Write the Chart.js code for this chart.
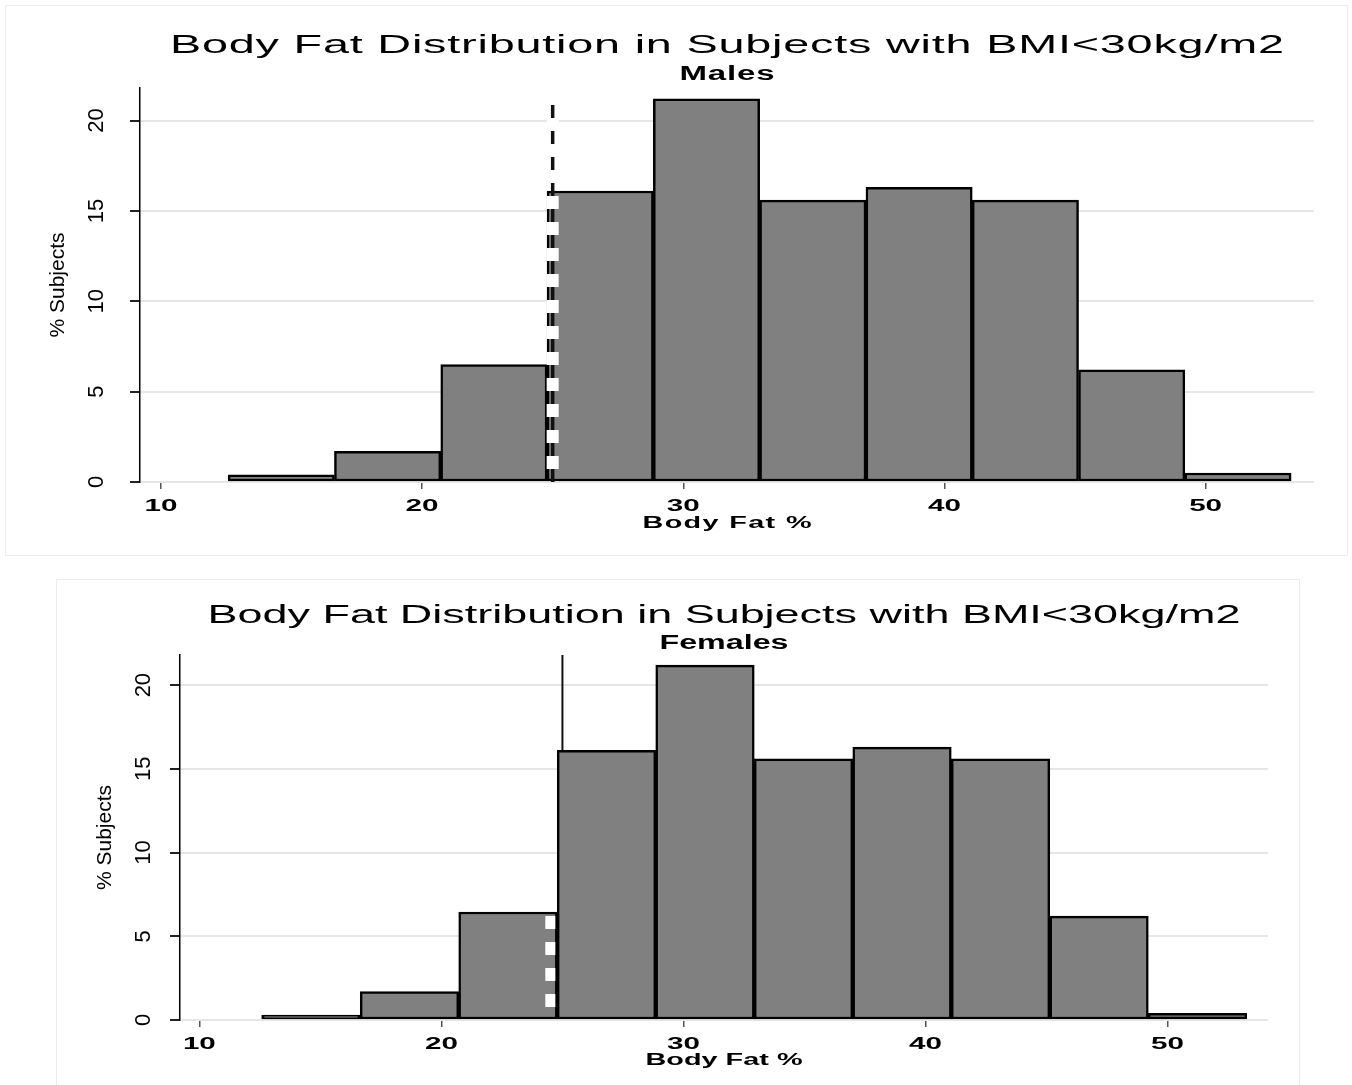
<!DOCTYPE html>
<html>
<head>
<meta charset="utf-8">
<script src="https://cdn.jsdelivr.net/npm/chart.js@4.4.1/dist/chart.umd.min.js"></script>
<style>
  html, body { margin: 0; background: #fff; }
  body { width: 1352px; height: 1085px; position: relative; overflow: hidden; }
  .panel { position: absolute; box-shadow: 0 0 0 1px #ececec; background: #fff; }
  canvas { display: block; }
</style>
</head>
<body>
<div class="panel" style="left:6px;top:6px;width:1341px;height:549px">
  <canvas id="male" width="1341" height="549"></canvas>
</div>
<div class="panel" style="left:57px;top:580px;width:1242px;height:520px">
  <canvas id="female" width="1242" height="505"></canvas>
</div>
<script>
// histogram bins (body fat %), bin centres, width ~4.07
const binCenters = [14.61, 18.68, 22.75, 26.82, 30.89, 34.96, 39.03, 43.10, 47.17, 51.24];
const malePct = [0.4, 1.7, 6.5, 16.1, 21.2, 15.6, 16.3, 15.6, 6.2, 0.5];
const femalePct = [0.3, 1.7, 6.45, 16.1, 21.2, 15.6, 16.3, 15.6, 6.2, 0.4];
const xTicks = [10, 20, 30, 40, 50];
const yTicks = [0, 5, 10, 15, 20];
const cutoff = 25; // body fat cut-off line
const maleLineTop = 21.3;

const titleText = "Body Fat Distribution in Subjects with BMI<30kg/m2";

function stretchText(ctx, text, x, y, font, width, k) {
  ctx.save();
  ctx.font = font;
  ctx.letterSpacing = "0px";
  const w0 = ctx.measureText(text).width;
  let ls = 0;
  if (width) {
    k = Math.min(k, width / w0);
    ls = Math.max(0, (width / k - w0) / Math.max(text.length - 1, 1));
  }
  ctx.letterSpacing = ls + "px";
  ctx.translate(x, y);
  ctx.scale(k, 1);
  ctx.textAlign = "center";
  ctx.textBaseline = "alphabetic";
  ctx.fillStyle = "#000";
  ctx.fillText(text, ls / 2, 0);
  ctx.restore();
}

// titles + x axis labels drawn stretched like the Stata output
const textPlugin = {
  id: "stretchText",
  afterDraw(chart, args, o) {
    const ctx = chart.ctx;
    const area = chart.chartArea;
    const mid = (area.left + area.right) / 2;
    stretchText(ctx, titleText, mid, o.titleY, '26px "Liberation Sans", Arial', o.titleW, 1.8);
    stretchText(ctx, o.sub, mid, o.subY, 'bold 20px "Liberation Sans", Arial', o.subW, 1.65);
    const xs = chart.scales.x;
    xs.ticks.forEach(t => {
      stretchText(ctx, String(t.value), xs.getPixelForValue(t.value), o.tickY, 'bold 16px "Liberation Sans", Arial', null, 1.85);
    });
    stretchText(ctx, "Body Fat %", mid, o.xTitleY, 'bold 16px "Liberation Sans", Arial', o.xTitleW, 1.8);
  }
};

// cut-off line at 25% body fat
const cutPlugin = {
  id: "cutLine",
  afterDatasetsDraw(chart, args, o) {
    const ctx = chart.ctx;
    const xs = chart.scales.x, ys = chart.scales.y;
    const y0 = ys.getPixelForValue(0);
    ctx.save();
    if (o.dashed) {
      const x = xs.getPixelForValue(cutoff);
      const yt = ys.getPixelForValue(maleLineTop);
      ctx.beginPath();
      ctx.moveTo(x, y0); ctx.lineTo(x, yt);
      ctx.strokeStyle = "#fff"; ctx.lineWidth = 12;
      ctx.setLineDash([13, 13]); ctx.lineDashOffset = 13;
      ctx.stroke();
      ctx.beginPath();
      ctx.moveTo(x, y0); ctx.lineTo(x, yt);
      ctx.strokeStyle = "#111"; ctx.lineWidth = 3.5;
      ctx.lineDashOffset = 0;
      ctx.stroke();
    } else {
      const xw = xs.getPixelForValue(cutoff - 0.5);
      ctx.beginPath();
      ctx.moveTo(xw, y0); ctx.lineTo(xw, ys.getPixelForValue(femalePct[2]));
      ctx.strokeStyle = "#fff"; ctx.lineWidth = 10;
      ctx.setLineDash([13, 13]); ctx.lineDashOffset = 13;
      ctx.stroke();
      const x = xs.getPixelForValue(cutoff);
      ctx.beginPath();
      ctx.setLineDash([]);
      ctx.moveTo(x, ys.getPixelForValue(femalePct[3])); ctx.lineTo(x, ys.getPixelForValue(ys.max));
      ctx.strokeStyle = "#111"; ctx.lineWidth = 2;
      ctx.stroke();
    }
    ctx.restore();
  }
};

function makeChart(id, values, s) {
  return new Chart(document.getElementById(id), {
    type: "bar",
    data: {
      datasets: [{
        data: binCenters.map((x, i) => ({ x: x, y: values[i] })),
        backgroundColor: "#808080",
        borderColor: "#000",
        borderWidth: 2.5,
        borderSkipped: false,
        barPercentage: 1,
        categoryPercentage: 1
      }]
    },
    options: {
      responsive: false,
      animation: false,
      layout: { padding: { left: 10, right: s.padRight, top: s.padTop, bottom: 0 } },
      plugins: {
        legend: { display: false },
        tooltip: { enabled: false },
        stretchText: s.text,
        cutLine: { dashed: s.dashed }
      },
      scales: {
        x: {
          type: "linear",
          min: 9.2,
          max: 54.15,
          offset: false,
          afterBuildTicks: sc => { sc.ticks = xTicks.map(v => ({ value: v })); },
          afterFit: sc => { sc.height = s.xAxisH; },
          border: { display: false },
          grid: { display: true, offset: false, drawOnChartArea: false, drawTicks: true, tickLength: 7, tickColor: "#555", lineWidth: 1.5 },
          ticks: { display: false }
        },
        y: {
          min: 0,
          max: 21.8,
          afterBuildTicks: sc => { sc.ticks = yTicks.map(v => ({ value: v })); },
          afterFit: sc => { sc.width = s.yAxisW; },
          border: { display: true, color: "#000", width: 1.5 },
          grid: { color: "#e6e6e6", lineWidth: 2, tickLength: 10, tickColor: "#222" },
          ticks: {
            minRotation: 90, maxRotation: 90, crossAlign: "center", padding: s.tickPad,
            color: "#000", font: { family: '"Liberation Sans Narrow", "Liberation Sans", Arial', size: 22 }
          },
          title: {
            display: true, text: "% Subjects", color: "#000",
            padding: { top: s.titlePad, bottom: 0 },
            font: { family: '"Liberation Sans Narrow", "Liberation Sans", Arial', size: 21 }
          }
        }
      }
    },
    plugins: [textPlugin, cutPlugin]
  });
}

makeChart("male", malePct, {
  padRight: 33, padTop: 82, xAxisH: 73, yAxisW: 124, tickPad: 21, titlePad: 30, dashed: true,
  text: { sub: "Males", titleY: 47, titleW: 1114, subY: 74, subW: 95, tickY: 505, xTitleY: 522, xTitleW: 169 }
});
makeChart("female", femalePct, {
  padRight: 31, padTop: 75, xAxisH: 65, yAxisW: 113, tickPad: 14, titlePad: 26, dashed: false,
  text: { sub: "Females", titleY: 43, titleW: 1033, subY: 69, subW: 129, tickY: 469, xTitleY: 485, xTitleW: 157 }
});
</script>
</body>
</html>
